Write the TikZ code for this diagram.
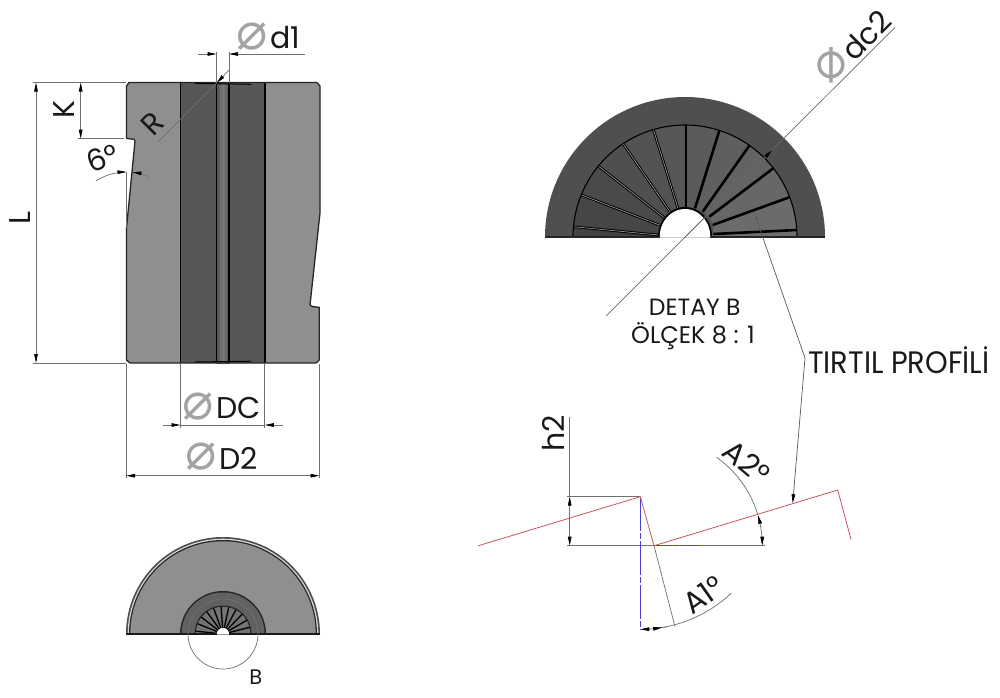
\documentclass[tikz,border=0pt]{standalone}
\usepackage{fontspec}
\setmainfont{Poppins}
\newfontfamily\diafont{DejaVu Sans}
\usetikzlibrary{arrows.meta,calc}
\definecolor{bodygray}{HTML}{8F8F8F}
\definecolor{bandgray}{HTML}{565656}
\definecolor{dimgray}{HTML}{707070}
\definecolor{prored}{HTML}{C9545F}
\definecolor{problue}{HTML}{4A3FD0}
\newcommand{\dia}{{\diafont\char"2300}}
\tikzset{
  dimline/.style={draw=dimgray,line width=.7pt},
  dimarrow/.style={draw=dimgray,line width=.7pt,>={Stealth[length=9pt,width=3.6pt,inset=0pt,black]}},
  lbl/.style={font=\fontsize{30}{30}\selectfont,inner sep=0pt,text=black!90},
  lblsmall/.style={font=\fontsize{21}{24}\selectfont,inner sep=0pt,text=black!90},
  diasym/.style={font=\fontsize{52}{52}\selectfont,inner sep=0pt,text=black!36},
  edge/.style={draw=black!85,line width=1.3pt,line join=round},
  heavy/.style={draw=black,line width=1.6pt},
  redline/.style={draw=prored,line width=.8pt,line join=miter},
  blueline/.style={draw=problue,line width=.9pt,dash pattern=on 34pt off 2pt on 6pt off 2pt},
}
\begin{document}
\begin{tikzpicture}[x=1pt,y=-1pt]
\useasboundingbox (0,0) rectangle (1000,697);
\fill[white] (0,0) rectangle (1000,697);

%% ---------- main sectional view ----------
\path[fill=bodygray] (129,82.5) -- (317,82.5) -- (320,86) -- (320,213) -- (310,305) -- (313,306.7) -- (319.3,307.3) -- (319.3,360) -- (316,363) -- (130,363) -- (126.5,360) -- (126.5,228) -- (135,141) -- (134,139.3) -- (126.5,138.5) -- (126.5,86) -- cycle;
\fill[bandgray] (180.5,83) rectangle (265,363);
\shade[left color=black!68,right color=black!68,middle color=black!52] (216.5,84) rectangle (229,363);
\draw[heavy] (180.5,83) -- (180.5,363);
\draw[heavy] (265,83) -- (265,363);
\draw[heavy] (216.5,83) -- (216.5,363);
\draw[heavy] (229,83) -- (229,363);
\draw[edge] (129,82.5) -- (317,82.5) -- (320,86) -- (320,213) -- (310,305) -- (313,306.7) -- (319.3,307.3) -- (319.3,360) -- (316,363) -- (130,363) -- (126.5,360) -- (126.5,228) -- (135,141) -- (134,139.3) -- (126.5,138.5) -- (126.5,86) -- cycle;
\draw[draw=black,line width=1pt] (195,83.3) -- (251,84.3);
\draw[draw=black,line width=1pt] (195,362) -- (251,361.2);

%% dimensions: L, K
\draw[dimline] (33,82.5) -- (126,82.5);
\draw[dimline] (33,363) -- (126,363);
\draw[dimarrow,<->] (36,82.5) -- (36,363);
\node[lbl,rotate=90] (lblL) at (20,218.5) {L};
\draw[dimline] (78,138.7) -- (124,138.7);
\draw[dimarrow,<->] (80.7,82.5) -- (80.7,138.7);
\node[lbl,rotate=90] (lblK) at (64,110) {K};

%% R
\coordinate (rfree) at (158.3,141.7);
\coordinate (rtop) at (229,70);
\coordinate (rtip) at (216.7,83);
\draw[dimarrow] (rfree) -- (rtip);
\draw[dimarrow,->] (rtop) -- (rtip);
\node[lbl,rotate=45] (lblR) at (152.7,124) {R};

%% d1
\draw[dimline] (216.5,52) -- (216.5,83);
\draw[dimline] (229,52) -- (229,83);
\coordinate (d1l) at (198,54);
\coordinate (d1r) at (305,54);
\draw[dimarrow,->] (d1l) -- (216.5,54);
\draw[dimarrow,->] (d1r) -- (229,54);
\node[diasym] (d1sym) at (251.7,36.7) {\dia};
\node[lbl,anchor=base west] (lbld1) at (270,48) {d1};

%% 6 degrees
\draw[dimline] (126.2,172) -- (126.2,228);
\draw[dimarrow,->] plot[domain=-123:-90,samples=20] ({126.5+56.5*cos(\x)},{228.5+56.5*sin(\x)});
\draw[dimarrow,->] plot[domain=-67:-84,samples=12] ({126.5+56.5*cos(\x)},{228.5+56.5*sin(\x)});
\node[lbl,rotate=20] (lbl6) at (102.3,158) {6°};

%% DC, D2
\draw[dimline] (180.5,364) -- (180.5,428);
\draw[dimline] (264.8,364) -- (264.8,428);
\draw[dimline] (180.5,425) -- (264.8,425);
\coordinate (dcl) at (162.7,425);
\coordinate (dcr) at (282.7,425);
\draw[dimarrow,->] (dcl) -- (180.5,425);
\draw[dimarrow,->] (dcr) -- (264.8,425);
\node[diasym] (dcsym) at (197.7,406.7) {\dia};
\node[lbl,anchor=base west] (lblDC) at (216,418) {DC};
\draw[dimline] (126.2,364) -- (126.2,478);
\draw[dimline] (319.5,364) -- (319.5,478);
\draw[dimarrow,<->] (126.2,475.7) -- (319.5,475.7);
\node[diasym] (d2sym) at (201,457) {\dia};
\node[lbl,anchor=base west] (lblD2) at (219,469) {D2};

%% ---------- small end view ----------
\fill[black!70] plot[domain=180:360,samples=91] ({223+97*cos(\x)},{634+97*sin(\x)}) -- cycle;
\fill[black!15] plot[domain=180:360,samples=91] ({223+95.3*cos(\x)},{634+95.3*sin(\x)}) -- cycle;
\fill[black!85] plot[domain=180:360,samples=91] ({223+94*cos(\x)},{634+94*sin(\x)}) -- cycle;
\fill[bodygray] plot[domain=180:360,samples=91] ({223+92.7*cos(\x)},{634+92.7*sin(\x)}) -- cycle;
\fill[black!85] plot[domain=180:360,samples=61] ({223+43*cos(\x)},{634+43*sin(\x)}) -- cycle;
\fill[black!62] plot[domain=180:360,samples=61] ({223+41.5*cos(\x)},{634+41.5*sin(\x)}) -- cycle;
\fill[black!85] plot[domain=180:360,samples=61] ({223+28.5*cos(\x)},{634+28.5*sin(\x)}) -- cycle;
\fill[black!55] plot[domain=180:360,samples=61] ({223+27.2*cos(\x)},{634+27.2*sin(\x)}) -- cycle;
\foreach \a in {186,202,218,234,250,266,282,298,314,330,346}
  \draw[black,line width=1.3pt] ({223+6*cos(\a)},{634+6*sin(\a)}) -- ({223+27.5*cos(\a)},{634+27.5*sin(\a)});
\fill[white] plot[domain=180:360,samples=31] ({223+6*cos(\x)},{634+6*sin(\x)}) -- cycle;
\draw[black!90,line width=1.5pt] (126,634) -- (217,634);
\draw[black!90,line width=1.5pt] (229,634) -- (320,634);
\draw[dimline] (223,634) circle[radius=35pt];
\node[lblsmall] (lblB) at (255.7,676.7) {B};

%% ---------- detail B ----------
\coordinate (cB) at (685,237);
\coordinate (s0o) at (573,237);   \coordinate (s0i) at (658,237);
\coordinate (s1o) at (573.3,226.7); \coordinate (s1i) at (658.3,235);
\coordinate (s2o) at (581.7,195);  \coordinate (s2i) at (659.3,225);
\coordinate (s3o) at (598.3,166);  \coordinate (s3i) at (665,218.3);
\coordinate (s4o) at (623.3,144);  \coordinate (s4i) at (670,211.7);
\coordinate (s5o) at (653.3,129.3); \coordinate (s5i) at (678.3,209.3);
\coordinate (s6o) at (686,125);    \coordinate (s6i) at (686,206.7);
\coordinate (s7o) at (719.3,130.7); \coordinate (s7i) at (695,208.3);
\coordinate (s8o) at (749.3,145.7); \coordinate (s8i) at (702.7,211.7);
\coordinate (s9o) at (773.3,168.3); \coordinate (s9i) at (709.3,216.7);
\coordinate (s10o) at (789.3,197.3); \coordinate (s10i) at (712.7,225);
\coordinate (s11o) at (796.7,230);  \coordinate (s11i) at (713.3,234);
\coordinate (s12o) at (797,237);   \coordinate (s12i) at (712,237);
\fill[bandgray!92!black] plot[domain=180:360,samples=121] ({685+140*cos(\x)},{237+140*sin(\x)}) -- cycle;
\begin{scope}
\clip plot[domain=180:360,samples=121] ({685+112*cos(\x)},{237+112*sin(\x)}) -- cycle;
\foreach \i [evaluate=\i as \j using int(\i+1), evaluate=\i as \g using 74-1.6*\i] in {0,...,11}
  \fill[black!\g] (s\i i) -- ($(cB)!1.3!(s\i o)$) -- ($(cB)!1.3!(s\j o)$) -- (s\j i) -- cycle;
\end{scope}
\foreach \i in {1,...,5} {
  \draw[black,line width=2.6pt] (s\i o) -- (s\i i);
  \draw[black!25,line width=.5pt] (s\i o) -- (s\i i);
}
\foreach \i in {6,...,11}
  \draw[black,line width=2.6pt] (s\i o) -- (s\i i);
\draw[black,line width=1.1pt] plot[domain=180:360,samples=121] ({685+112*cos(\x)},{237+112*sin(\x)});
\fill[black] plot[domain=180:360,samples=61] ({685+27*cos(\x)},{237+30*sin(\x)}) -- cycle;
\fill[white] plot[domain=180:360,samples=61] ({685+25.3*cos(\x)},{237+28*sin(\x)}) -- cycle;
\draw[black!85,line width=1.4pt] (545,237) -- (660,237);
\draw[black!85,line width=1.4pt] (710,237) -- (825,237);

\coordinate (dcfree) at (606,316);
\coordinate (dcend) at (895,27.3);
\coordinate (dctip) at (772,150.3);
\draw[dimline,draw=black!60] (dcfree) -- (dcend);
\draw[dimarrow,->,draw=black!60] (cB) -- (dctip);
\node[diasym,rotate=45] (dc2sym) at (831,65) {\dia};
\node[lbl,rotate=45] (lbldc2) at (866,35) {dc2};

\node[lblsmall,font=\fontsize{23.5}{24}\selectfont] (detay) at (694.7,307.5) {DETAY B};
\node[lblsmall,font=\fontsize{24}{24}\selectfont] (olcek) at (693,336) {ÖLÇEK 8 : 1};
\node[lbl,anchor=base west,font=\fontsize{31}{31}\selectfont] (tirtil) at (808,373.3) {\scalebox{.93}[1]{TIRTIL PROFİLİ}};

%% leader
\coordinate (leadtop) at (756,218);
\coordinate (leadkink) at (805,358);
\coordinate (leadtip) at (792.7,503.3);
\fill[black!70] (leadtop) circle[radius=1pt];
\draw[dimarrow,->,draw=black!65] (leadtop) -- (leadkink) -- (leadtip);

%% ---------- profile ----------
\coordinate (pa) at (478.3,545.7);
\coordinate (pb) at (640.3,496.7);
\coordinate (pc) at (654,545.7);
\coordinate (pd) at (837.7,490);
\coordinate (pe) at (851,539.3);
\coordinate (pbot) at (640.3,629.3);
\coordinate (pg) at (675,626.7);
\draw[dimline] (567.3,496.7) -- (pb);
\draw[dimline] (567.3,545.7) -- (765,545.7);
\draw[dimline] (569.7,416.7) -- (569.7,496.7);
\draw[dimarrow,<->] (569.7,496.7) -- (569.7,545.7);
\draw[dimline] (pc) -- (pg);
\draw[blueline] (pb) -- (pbot);
\draw[problue,line width=.9pt,dash pattern=on 18pt off 2pt on 5pt off 2pt] (pc) -- (700,545.7);
\draw[redline] (pa) -- (pb) -- (pc) -- (pd) -- (pe);
\node[lbl,rotate=90] (lblh2) at (553,433) {h2};
%% A1 arc
\draw[dimarrow,->] plot[domain=78:90,samples=8] ({640.3+132.6*cos(\x)},{496.7+132.6*sin(\x)});
\draw[dimarrow] plot[domain=46.6:80,samples=20] ({640.3+132.6*cos(\x)},{496.7+132.6*sin(\x)});
\draw[dimarrow,->] plot[domain=83:80.5,samples=3] ({640.3+132.6*cos(\x)},{496.7+132.6*sin(\x)});
\node[lbl,rotate=35] (lblA1) at (703.3,595) {A1°};
%% A2 arc
\draw[dimarrow,->] plot[domain=-8:0,samples=8] ({654+108.3*cos(\x)},{545.7+108.3*sin(\x)});
\draw[dimarrow,->] plot[domain=-8:-16.5,samples=8] ({654+108.3*cos(\x)},{545.7+108.3*sin(\x)});
\draw[dimarrow] plot[domain=-16.5:-54.7,samples=20] ({654+108.3*cos(\x)},{545.7+108.3*sin(\x)});
\node[lbl,rotate=-40] (lblA2) at (746.7,461.7) {A2°};
\end{tikzpicture}
\end{document}
